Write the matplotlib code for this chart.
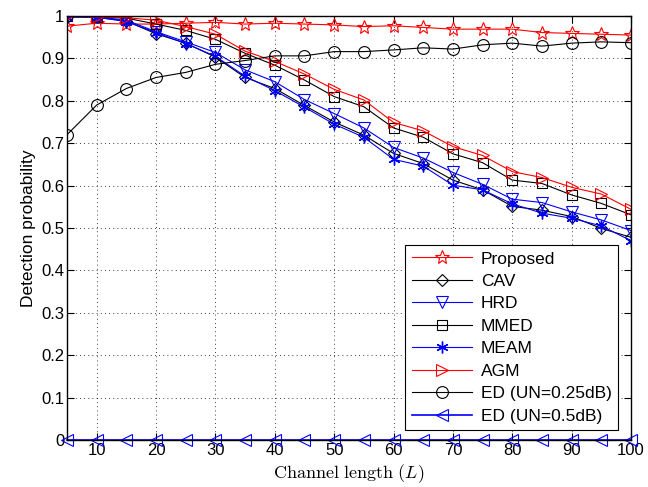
import matplotlib
matplotlib.use("Agg")
import matplotlib.pyplot as plt

plt.rcParams['font.family'] = ['Liberation Sans', 'DejaVu Sans']
plt.rcParams['mathtext.fontset'] = 'cm'

L = [5, 10, 15, 20, 25, 30, 35, 40, 45, 50, 55, 60, 65, 70, 75, 80, 85, 90, 95, 100]

proposed = [0.976, 0.983, 0.981, 0.981, 0.983, 0.985, 0.981, 0.983, 0.981, 0.979,
            0.975, 0.977, 0.973, 0.969, 0.969, 0.969, 0.961, 0.959, 0.957, 0.955]
cav = [0.998, 0.997, 0.988, 0.958, 0.936, 0.903, 0.855, 0.829, 0.789, 0.750,
       0.719, 0.676, 0.652, 0.613, 0.590, 0.551, 0.542, 0.527, 0.499, 0.478]
hrd = [0.999, 0.998, 0.990, 0.963, 0.939, 0.914, 0.873, 0.845, 0.803, 0.770,
       0.736, 0.690, 0.665, 0.631, 0.603, 0.568, 0.560, 0.538, 0.519, 0.494]
mmed = [0.999, 0.998, 0.995, 0.981, 0.966, 0.945, 0.912, 0.884, 0.849, 0.810,
        0.786, 0.736, 0.714, 0.675, 0.654, 0.613, 0.605, 0.578, 0.558, 0.531]
meam = [0.998, 0.997, 0.987, 0.961, 0.935, 0.905, 0.858, 0.824, 0.785, 0.745,
        0.714, 0.662, 0.646, 0.601, 0.590, 0.557, 0.535, 0.523, 0.505, 0.470]
agm = [0.999, 0.998, 0.996, 0.990, 0.975, 0.957, 0.917, 0.893, 0.863, 0.827,
       0.802, 0.749, 0.729, 0.692, 0.671, 0.633, 0.619, 0.596, 0.580, 0.544]
ed_025 = [0.720, 0.790, 0.829, 0.855, 0.867, 0.886, 0.895, 0.906, 0.906, 0.916,
          0.916, 0.920, 0.925, 0.922, 0.932, 0.936, 0.929, 0.936, 0.939, 0.937]
ed_05 = [0.0] * len(L)

fig = plt.figure(figsize=(6.48, 4.87), dpi=100)
ax = fig.add_axes([67 / 648, 47 / 487, 564 / 648, 424 / 487])

ms = 8.5
lw = 0.8
mew = 0.8
ax.plot(L, proposed, color='red', marker='*', ms=ms + 1.5, mfc='none', lw=lw, mew=mew, label='Proposed')
ax.plot(L, cav, color='black', marker='D', ms=ms - 2, mfc='none', lw=lw, mew=mew, label='CAV')
ax.plot(L, hrd, color='blue', marker='v', ms=ms, mfc='none', lw=lw, mew=mew, label='HRD')
ax.plot(L, mmed, color='black', marker='s', ms=ms - 2, mfc='none', lw=lw, mew=mew, label='MMED')
ax.plot(L, meam, color='blue', marker=(6, 2, 0), ms=ms, lw=lw, mew=1.0, label='MEAM')
ax.plot(L, agm, color='red', marker='>', ms=ms, mfc='none', lw=lw, mew=mew, label='AGM')
ax.plot(L, ed_025, color='black', marker='o', ms=ms, mfc='none', lw=lw, mew=mew, label='ED (UN=0.25dB)')
ax.plot(L, ed_05, color='blue', marker='<', ms=ms, mfc='none', lw=1.2, mew=mew, label='ED (UN=0.5dB)',
        clip_on=False)

ax.set_xlim(5, 100)
ax.set_ylim(0, 1)
ax.set_xticks(range(10, 101, 10))
ax.set_yticks([i / 10 for i in range(11)])
ax.set_yticklabels(['0', '0.1', '0.2', '0.3', '0.4', '0.5', '0.6', '0.7', '0.8', '0.9', '1'])
ax.tick_params(direction='in', top=True, right=True, labelsize=12, length=5, width=0.8, pad=2)
ax.grid(True, linestyle=(0, (1, 4)), color='black', linewidth=0.6)
for s in ax.spines.values():
    s.set_linewidth(1.0)

ax.set_xlabel(r'$\mathrm{Channel\ length}\ (L)$', fontsize=13, labelpad=3)
ax.set_ylabel('Detection probability', fontsize=12.5, labelpad=4)

leg = ax.legend(loc='lower right', bbox_to_anchor=(0.983, 0.016), fontsize=12.5, fancybox=False,
                framealpha=1, edgecolor='black', handlelength=3.5, borderpad=0.35,
                labelspacing=0.42, handletextpad=0.5, borderaxespad=0.2)
leg.get_frame().set_linewidth(0.8)

fig.savefig('out.png', dpi=100)
